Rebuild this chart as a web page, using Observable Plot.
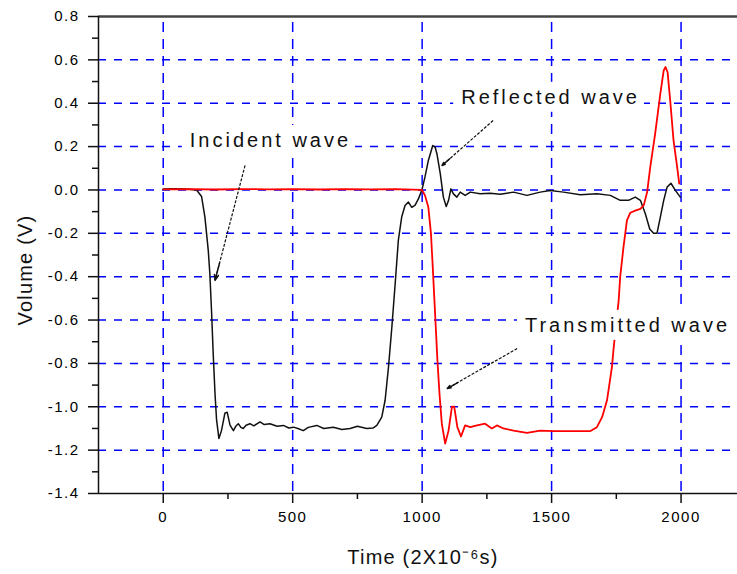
<!DOCTYPE html>
<html><head><meta charset="utf-8">
<script src="https://cdn.jsdelivr.net/npm/d3@7"></script>
<script src="https://cdn.jsdelivr.net/npm/@observablehq/plot@0.6"></script>
<style>
body{margin:0;background:#fff;}
svg text{letter-spacing:1.5px;}
</style></head><body><div id="chart"></div>
<script>
// Incident + reflected wave (black), [time, volume]
const incidentReflected = [
[0,0.004],[50,0.006],[100,0.003],[129,0],[148,-0.03],[161,-0.125],[174,-0.28],[180,-0.385],[187,-0.57],[193,-0.755],[200,-0.94],[206,-1.06],[215,-1.146],[225,-1.11],[238,-1.03],[247,-1.025],[258,-1.085],[271,-1.11],[280,-1.09],[290,-1.078],[300,-1.095],[309,-1.10],[320,-1.085],[335,-1.078],[350,-1.088],[374,-1.07],[390,-1.082],[412,-1.078],[440,-1.09],[464,-1.086],[485,-1.098],[503,-1.094],[520,-1.1],[541,-1.11],[560,-1.095],[593,-1.086],[620,-1.1],[657,-1.094],[690,-1.105],[722,-1.10],[750,-1.09],[786,-1.10],[810,-1.098],[825,-1.086],[844,-1.048],[857,-0.97],[870,-0.817],[883,-0.633],[896,-0.43],[908,-0.233],[921,-0.125],[934,-0.072],[947,-0.056],[960,-0.08],[973,-0.07],[986,-0.04],[999,0],[1011,0.06],[1024,0.136],[1041,0.205],[1050,0.198],[1057,0.167],[1070,0.075],[1082,-0.033],[1093,-0.076],[1102,-0.048],[1111,0.005],[1121,-0.018],[1134,-0.033],[1147,-0.01],[1166,-0.025],[1186,-0.01],[1224,-0.018],[1263,-0.015],[1302,-0.02],[1353,-0.01],[1405,-0.025],[1456,-0.01],[1495,-0.002],[1546,-0.01],[1611,-0.022],[1675,-0.018],[1727,-0.025],[1765,-0.048],[1797,-0.048],[1823,-0.033],[1843,-0.048],[1862,-0.11],[1879,-0.18],[1894,-0.2],[1907,-0.2],[1920,-0.125],[1933,-0.048],[1946,0.013],[1961,0.031],[1978,-0.002],[1997,-0.033]
];
// Transmitted wave (red), [time, volume]
const transmitted = [
[0,0.003],[100,0.004],[200,0.002],[300,0.004],[400,0.003],[500,0.004],[600,0.002],[700,0.004],[800,0.003],[900,0.004],[999,0],[1011,-0.025],[1024,-0.08],[1034,-0.2],[1041,-0.356],[1050,-0.57],[1059,-0.786],[1067,-0.94],[1076,-1.078],[1089,-1.17],[1102,-1.11],[1115,-1.0],[1124,-1.0],[1136,-1.094],[1150,-1.137],[1166,-1.086],[1186,-1.094],[1212,-1.086],[1243,-1.078],[1269,-1.10],[1289,-1.086],[1314,-1.10],[1353,-1.11],[1405,-1.12],[1456,-1.11],[1508,-1.112],[1585,-1.112],[1650,-1.112],[1675,-1.094],[1695,-1.048],[1714,-0.97],[1733,-0.817],[1740,-0.725],[1759,-0.51],[1765,-0.40],[1778,-0.26],[1791,-0.14],[1804,-0.105],[1823,-0.095],[1843,-0.087],[1856,-0.07],[1869,-0.01],[1881,0.105],[1900,0.26],[1920,0.444],[1933,0.551],[1940,0.567],[1948,0.543],[1958,0.413],[1971,0.228],[1985,0.105],[1993,0.029]
];
const xMajor = [0, 500, 1000, 1500, 2000];
const xMinor = [250, 750, 1250, 1750];
const yMajor = [-1.4, -1.2, -1.0, -0.8, -0.6, -0.4, -0.2, 0.0, 0.2, 0.4, 0.6, 0.8];
const yMinor = [-1.3, -1.1, -0.9, -0.7, -0.5, -0.3, -0.1, 0.1, 0.3, 0.5, 0.7];
const yGrid = [-1.2, -1.0, -0.8, -0.6, -0.4, -0.2, 0.0, 0.2, 0.4, 0.6];
const xDomain = [-250, 2218];
const yDomain = [-1.4, 0.8];
const labels = [
  {text: "Incident wave", x: 414, y: 0.228},
  {text: "Reflected wave", x: 1496, y: 0.427},
  {text: "Transmitted wave", x: 1793, y: -0.625}
];
const arrows = [
  {x1: 316, y1: 0.113, x2: 200, y2: -0.417},
  {x1: 1274, y1: 0.32, x2: 1077, y2: 0.113},
  {x1: 1367, y1: -0.731, x2: 1097, y2: -0.916}
];
const xTitle = "Time (2X10⁻⁶s)";
const yTitle = "Volume (V)";

const fmt = d => (d < 0 ? "-" : "") + Math.abs(d).toFixed(1);
const heads = arrows.map(a => ({x1: a.x2 - 0.15*(a.x2-a.x1), y1: a.y2 - 0.15*(a.y2-a.y1), x2: a.x2, y2: a.y2}));

const chart = Plot.plot({
  width: 737, height: 574,
  marginLeft: 98, marginRight: 0, marginTop: 16, marginBottom: 81,
  x: {domain: xDomain, axis: null},
  y: {domain: yDomain, axis: null},
  style: {fontFamily: "'Liberation Sans', Arial, sans-serif", background: "white", color: "#000"},
  marks: [
    Plot.ruleY(yGrid, {stroke: "#0000ff", strokeWidth: 1.5, strokeDasharray: "8,8"}),
    Plot.ruleX(xMajor, {stroke: "#0000ff", strokeWidth: 1.5, strokeDasharray: "10,7", y1: yDomain[1], y2: yDomain[0], insetTop: 6}),
    Plot.ruleY([yDomain[1]], {stroke: "#444", strokeWidth: 2.5}),
    Plot.ruleY([yDomain[0]], {stroke: "#111", strokeWidth: 1.5}),
    Plot.ruleX([xDomain[0]], {stroke: "#111", strokeWidth: 1.5}),
    Plot.axisY(yMajor, {tickSize: 10, tickPadding: 9, tickFormat: fmt, fontSize: 15, stroke: "#111", strokeWidth: 1.5}),
    Plot.axisY(yMinor, {tickSize: 6, tickFormat: () => "", stroke: "#111", strokeWidth: 1.5}),
    Plot.axisX(xMajor, {tickSize: 10, tickPadding: 8, tickFormat: d => String(d), fontSize: 15, stroke: "#111", strokeWidth: 1.5, label: null}),
    Plot.axisX(xMinor, {tickSize: 6, tickFormat: () => "", stroke: "#111", strokeWidth: 1.5, label: null}),
    Plot.line(incidentReflected, {x: d => d[0], y: d => d[1], stroke: "#111", strokeWidth: 1.5}),
    Plot.line(transmitted, {x: d => d[0], y: d => d[1], stroke: "#ff0000", strokeWidth: 1.8}),
    Plot.link(arrows, {x1: "x1", y1: "y1", x2: "x2", y2: "y2", stroke: "#111", strokeWidth: 1.2, strokeDasharray: "3,1.5"}),
    Plot.arrow(heads, {x1: "x1", y1: "y1", x2: "x2", y2: "y2", stroke: "#111", strokeWidth: 1.5, headLength: 10, headAngle: 40}),
    Plot.text(labels, {x: "x", y: "y", text: "text", fontSize: 20, fill: "#111"}),
    Plot.text([xTitle], {frameAnchor: "bottom", textAnchor: "middle", lineAnchor: "middle", dx: 5, dy: 64, fontSize: 20, fill: "#111"}),
    Plot.text([yTitle], {frameAnchor: "left", textAnchor: "middle", lineAnchor: "middle", dx: -73, dy: 15, rotate: -90, fontSize: 20, fill: "#111"})
  ]
});
document.getElementById("chart").appendChild(chart);

const labelSet = new Set(labels.map(d => d.text));
const titleSet = new Set([xTitle, yTitle]);
const allText = d3.select(chart).selectAll("text");
allText.filter(function() { return titleSet.has(this.textContent); }).style("letter-spacing", "1.2px");
// white boxes behind annotation texts (as in the original figure)
allText.filter(function() { return labelSet.has(this.textContent); })
  .style("letter-spacing", "3px")
  .each(function() {
    const b = this.getBBox();
    const r = document.createElementNS("http://www.w3.org/2000/svg", "rect");
    r.setAttribute("x", b.x - 8); r.setAttribute("y", b.y - 4);
    r.setAttribute("width", b.width + 12); r.setAttribute("height", b.height + 8);
    r.setAttribute("fill", "white");
    const t = this.getAttribute("transform");
    if (t) r.setAttribute("transform", t);
    this.parentNode.insertBefore(r, this);
  });
</script></body></html>
